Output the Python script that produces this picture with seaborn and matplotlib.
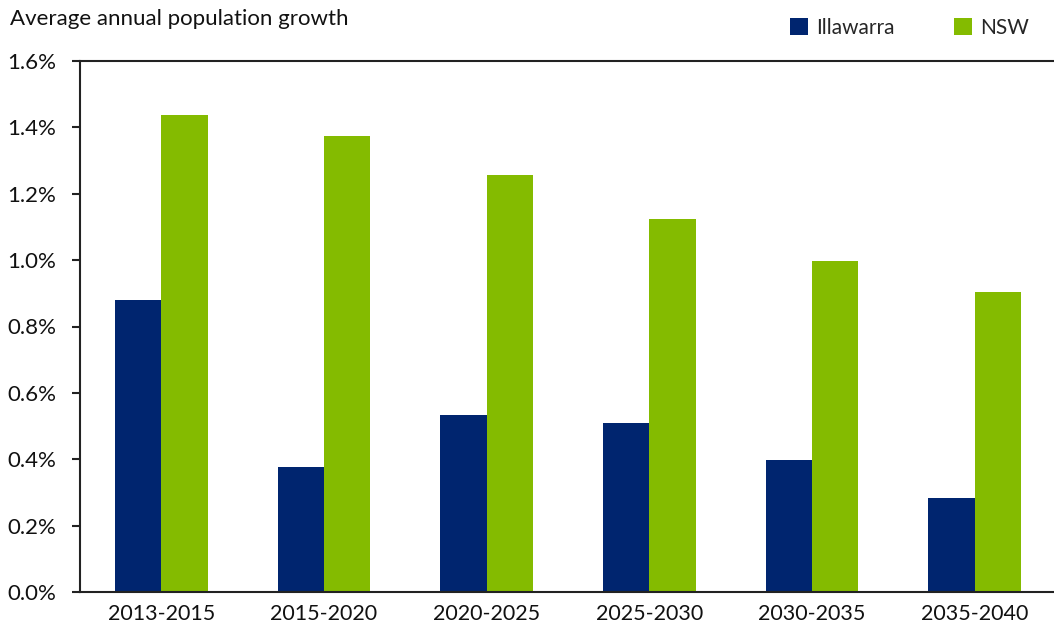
import matplotlib
matplotlib.use("Agg")
import matplotlib.pyplot as plt
import matplotlib.ticker as mticker
from matplotlib.patches import Patch
import pandas as pd
import seaborn as sns

periods = ["2013-2015", "2015-2020", "2020-2025", "2025-2030", "2030-2035", "2035-2040"]
illawarra = [0.88, 0.377, 0.533, 0.509, 0.398, 0.283]
nsw = [1.437, 1.374, 1.256, 1.124, 0.997, 0.904]
series = ["Illawarra", "NSW"]
colors = ["#00256F", "#84BB00"]

df = pd.DataFrame({
    "period": periods * 2,
    "region": [series[0]] * len(periods) + [series[1]] * len(periods),
    "growth": illawarra + nsw,
})

sns.set_theme(style="white")
plt.rcParams["font.family"] = ["Lato", "DejaVu Sans"]

fig = plt.figure(figsize=(10.54, 6.35), dpi=100)
ax = fig.add_axes([80 / 1054, 1 - 592 / 635, 976 / 1054, (592 - 61) / 635])

sns.barplot(data=df, x="period", y="growth", hue="region", order=periods,
            hue_order=series, palette=colors, width=0.57, saturation=1,
            ax=ax, legend=False, linewidth=0)

ax.set_ylim(0, 1.6)
ax.set_xlim(-0.5, len(periods) - 0.5)
ax.yaxis.set_major_locator(mticker.MultipleLocator(0.2))
ax.yaxis.set_major_formatter(mticker.FuncFormatter(lambda v, p: f"{v:.1f}%"))
ax.set_xlabel("")
ax.set_ylabel("")

# category boundary ticks on x axis
ax.set_xticks([i - 0.5 for i in range(len(periods) + 1)], minor=True)
ax.tick_params(axis="x", which="major", length=0, labelsize=15.5, pad=9, labelcolor="#111111")
ax.tick_params(axis="x", which="minor", length=6, width=1.5, direction="out", color="#222222")
ax.tick_params(axis="y", length=6, width=1.5, direction="out", labelsize=16,
               pad=11, color="#222222", labelcolor="#111111", left=True)

for side in ["left", "bottom", "top"]:
    ax.spines[side].set_visible(True)
    ax.spines[side].set_color("#222222")
    ax.spines[side].set_linewidth(1.5)
ax.spines["right"].set_visible(False)

fig.text(10 / 1054, 1 - 19 / 635, "Average annual population growth",
         fontsize=16, va="center", ha="left", color="#111111")

handles = [Patch(facecolor=c, edgecolor="none") for c in colors]
fig.legend(handles, series, loc="center left", bbox_to_anchor=(782 / 1054, 1 - 28 / 635),
           ncol=2, frameon=False, fontsize=15, handlelength=0.85, handleheight=0.85,
           handletextpad=0.4, columnspacing=2.85, borderaxespad=0)

fig.savefig("out.png", dpi=100, facecolor="white")
